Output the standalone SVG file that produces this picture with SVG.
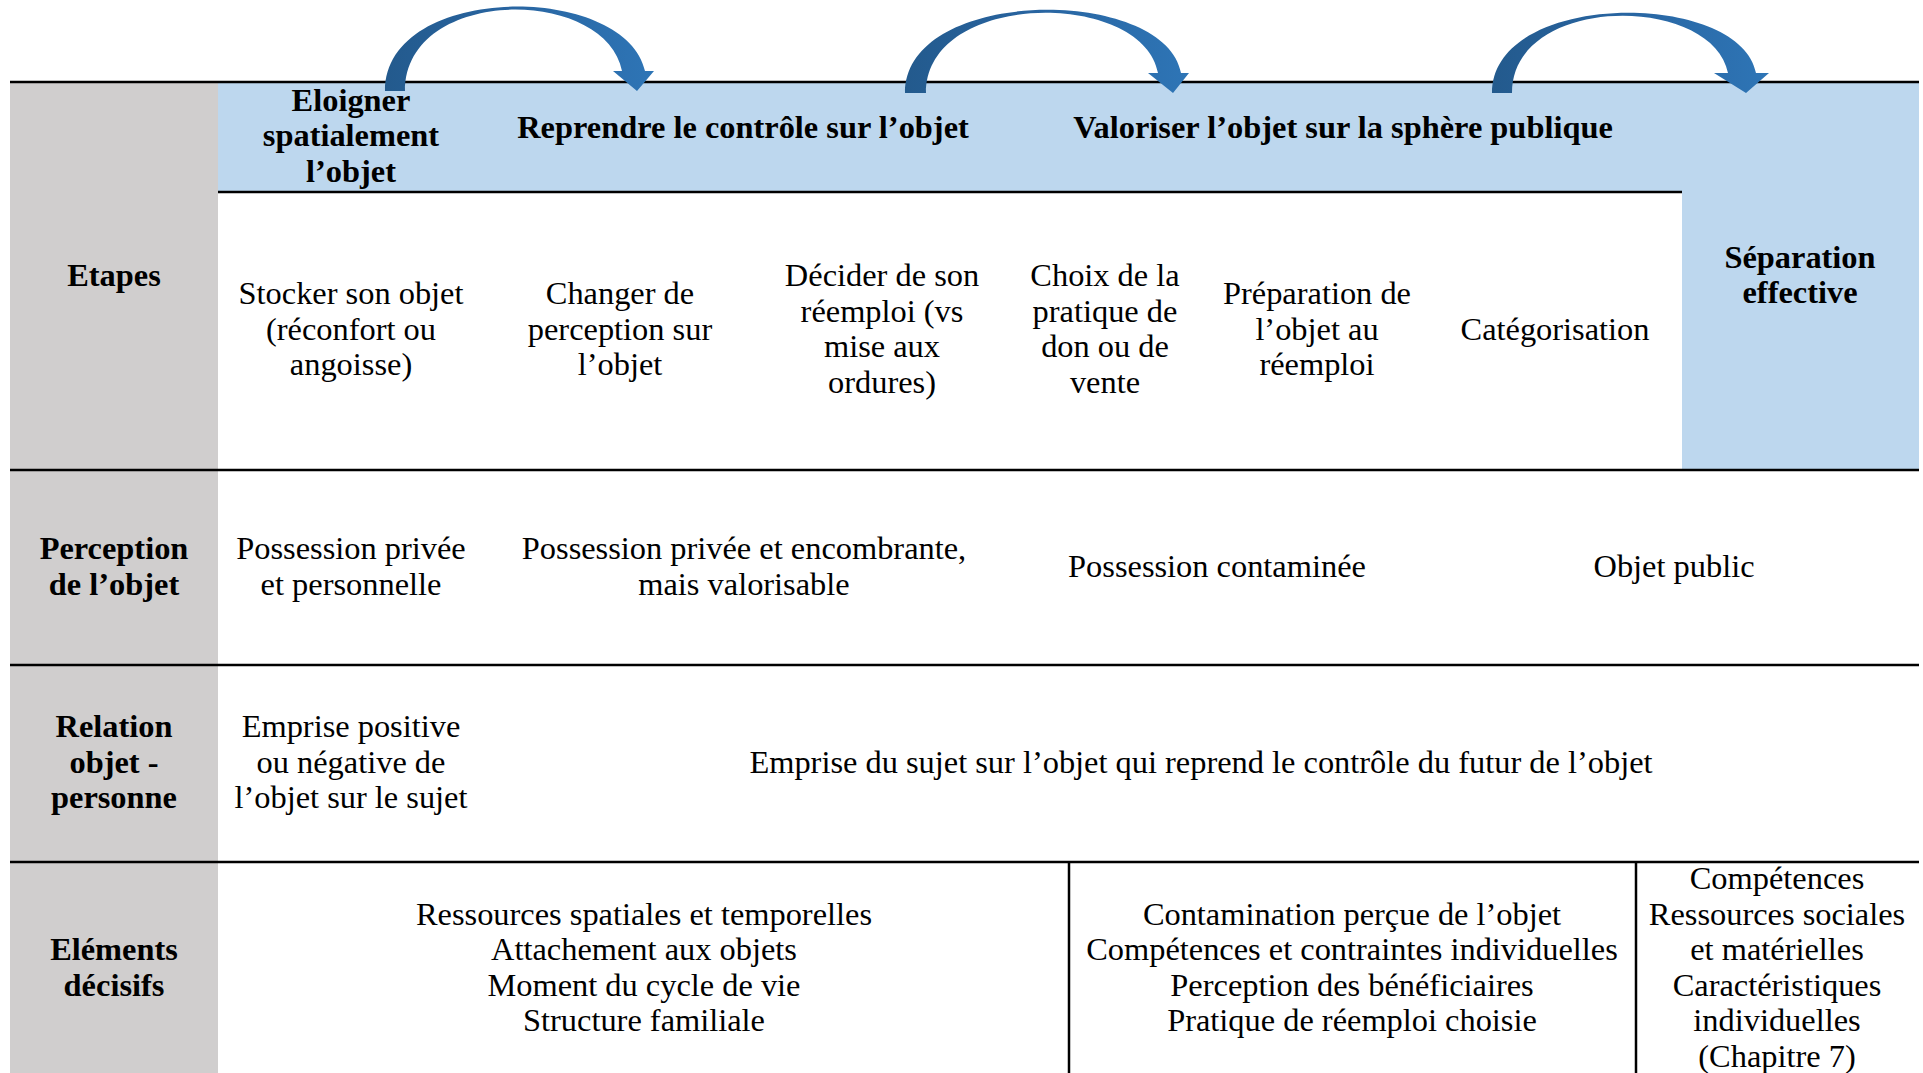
<svg xmlns="http://www.w3.org/2000/svg" width="1923" height="1073" viewBox="0 0 1923 1073">
<style>
.t{font-family:"Liberation Serif","Times New Roman",serif;font-size:32.4px;fill:#000;text-anchor:middle}
.b{font-weight:bold}
.ln{stroke:#000;stroke-width:2.5;fill:none}
.arr{fill:url(#ag)}
</style>
<defs>
<linearGradient id="ag" x1="0" y1="0" x2="1" y2="0">
<stop offset="0" stop-color="#235a8d"/>
<stop offset="0.45" stop-color="#2864a0"/>
<stop offset="1" stop-color="#2e75b6"/>
</linearGradient>
</defs>
<rect width="1923" height="1073" fill="#fff"/>
<g id="backgrounds">
<rect x="10" y="82" width="208" height="991" fill="#d0cece"/>
<rect x="218" y="82" width="1701" height="110" fill="#bdd7ee"/>
<rect x="1682" y="192" width="237" height="278" fill="#bdd7ee"/>
</g>
<g id="grid">
<line class="ln" x1="10" y1="82" x2="1919" y2="82"/>
<line class="ln" x1="218" y1="192" x2="1682" y2="192"/>
<line class="ln" x1="10" y1="470" x2="1919" y2="470"/>
<line class="ln" x1="10" y1="665" x2="1919" y2="665"/>
<line class="ln" x1="10" y1="862" x2="1919" y2="862"/>
<line class="ln" x1="1069" y1="862" x2="1069" y2="1073"/>
<line class="ln" x1="1636" y1="862" x2="1636" y2="1073"/>
</g>
<g id="connectors">
<path class="arr" d="M385,91 C385,-18 625,-18 645,71 L654,71 L637,91 L613,71 L622,71 C605,-14 405,-14 405,91 Z"/>
<path class="arr" d="M905,93 C905,-14.3 1165,-14.3 1181,73 L1189,73 L1173,93 L1148,73 L1158,73 C1143,-10.3 926,-10.3 926,93 Z"/>
<path class="arr" d="M1492,93 C1492,-10.3 1740,-10.3 1756,73 L1769,73 L1746,93 L1714,73 L1728,73 C1712,-6.3 1512,-6.3 1512,93 Z"/>
</g>
<g id="nodes" transform="translate(0,1)">
<g id="phase-eloigner"><text class="t b"><tspan x="351" y="110">Eloigner</tspan><tspan x="351" y="145">spatialement</tspan><tspan x="351" y="181">l’objet</tspan></text></g>
<g id="phase-reprendre"><text class="t b" x="743" y="137">Reprendre le contrôle sur l’objet</text></g>
<g id="phase-valoriser"><text class="t b" x="1343" y="137">Valoriser l’objet sur la sphère publique</text></g>
<g id="phase-separation"><text class="t b"><tspan x="1800" y="267">Séparation</tspan><tspan x="1800" y="302">effective</tspan></text></g>
<g id="label-etapes"><text class="t b" x="114" y="285">Etapes</text></g>
<g id="step-stocker"><text class="t"><tspan x="351" y="303">Stocker son objet</tspan><tspan x="351" y="339">(réconfort ou</tspan><tspan x="351" y="374">angoisse)</tspan></text></g>
<g id="step-changer"><text class="t"><tspan x="620" y="303">Changer de</tspan><tspan x="620" y="339">perception sur</tspan><tspan x="620" y="374">l’objet</tspan></text></g>
<g id="step-decider"><text class="t"><tspan x="882" y="285">Décider de son</tspan><tspan x="882" y="321">réemploi (vs</tspan><tspan x="882" y="356">mise aux</tspan><tspan x="882" y="392">ordures)</tspan></text></g>
<g id="step-choix"><text class="t"><tspan x="1105" y="285">Choix de la</tspan><tspan x="1105" y="321">pratique de</tspan><tspan x="1105" y="356">don ou de</tspan><tspan x="1105" y="392">vente</tspan></text></g>
<g id="step-preparation"><text class="t"><tspan x="1317" y="303">Préparation de</tspan><tspan x="1317" y="339">l’objet au</tspan><tspan x="1317" y="374">réemploi</tspan></text></g>
<g id="step-categorisation"><text class="t" x="1555" y="339">Catégorisation</text></g>
<g id="label-perception"><text class="t b"><tspan x="114" y="558">Perception</tspan><tspan x="114" y="594">de l’objet</tspan></text></g>
<g id="perc-1"><text class="t"><tspan x="351" y="558">Possession privée</tspan><tspan x="351" y="594">et personnelle</tspan></text></g>
<g id="perc-2"><text class="t"><tspan x="744" y="558">Possession privée et encombrante,</tspan><tspan x="744" y="594">mais valorisable</tspan></text></g>
<g id="perc-3"><text class="t" x="1217" y="576">Possession contaminée</text></g>
<g id="perc-4"><text class="t" x="1674" y="576">Objet public</text></g>
<g id="label-relation"><text class="t b"><tspan x="114" y="736">Relation</tspan><tspan x="114" y="772">objet -</tspan><tspan x="114" y="807">personne</tspan></text></g>
<g id="rel-1"><text class="t"><tspan x="351" y="736">Emprise positive</tspan><tspan x="351" y="772">ou négative de</tspan><tspan x="351" y="807">l’objet sur le sujet</tspan></text></g>
<g id="rel-2"><text class="t" x="1201" y="772">Emprise du sujet sur l’objet qui reprend le contrôle du futur de l’objet</text></g>
<g id="label-elements"><text class="t b"><tspan x="114" y="959">Eléments</tspan><tspan x="114" y="995">décisifs</tspan></text></g>
<g id="elem-1"><text class="t"><tspan x="644" y="924">Ressources spatiales et temporelles</tspan><tspan x="644" y="959">Attachement aux objets</tspan><tspan x="644" y="995">Moment du cycle de vie</tspan><tspan x="644" y="1030">Structure familiale</tspan></text></g>
<g id="elem-2"><text class="t"><tspan x="1352" y="924">Contamination perçue de l’objet</tspan><tspan x="1352" y="959">Compétences et contraintes individuelles</tspan><tspan x="1352" y="995">Perception des bénéficiaires</tspan><tspan x="1352" y="1030">Pratique de réemploi choisie</tspan></text></g>
<g id="elem-3"><text class="t"><tspan x="1777" y="888">Compétences</tspan><tspan x="1777" y="924">Ressources sociales</tspan><tspan x="1777" y="959">et matérielles</tspan><tspan x="1777" y="995">Caractéristiques</tspan><tspan x="1777" y="1030">individuelles</tspan><tspan x="1777" y="1066">(Chapitre 7)</tspan></text></g>
</g>
</svg>
